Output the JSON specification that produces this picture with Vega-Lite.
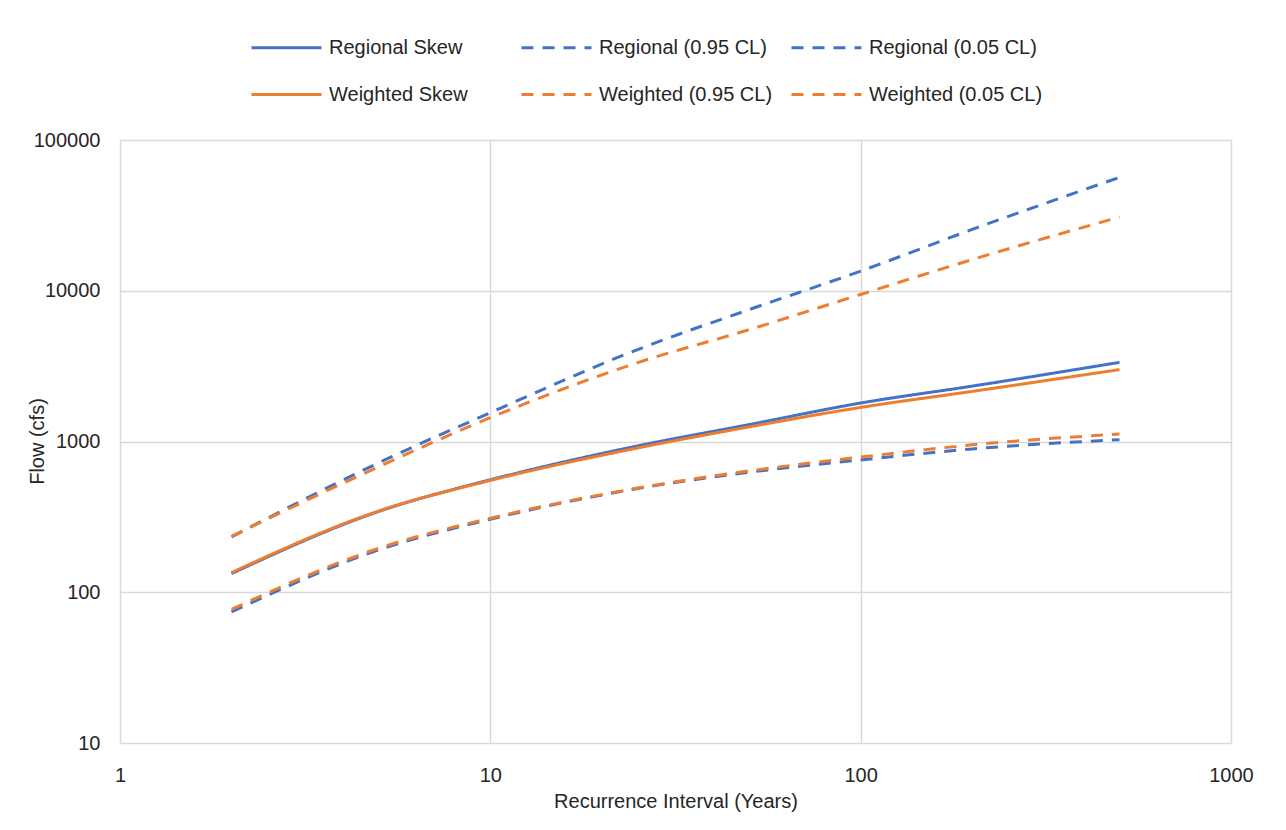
{
  "$schema": "https://vega.github.io/schema/vega-lite/v6.json",
  "autosize": {"type": "none"},
  "width": 1111,
  "height": 603,
  "padding": {"left": 120, "top": 140, "right": 55, "bottom": 87},
  "background": "white",
  "config": {
    "view": {"stroke": null},
    "font": "Liberation Sans"
  },
  "data": {
    "values": [
      {"ri": 2, "flow": 133, "series": "Regional Skew"},
      {"ri": 5, "flow": 344, "series": "Regional Skew"},
      {"ri": 10, "flow": 557, "series": "Regional Skew"},
      {"ri": 25, "flow": 935, "series": "Regional Skew"},
      {"ri": 50, "flow": 1295, "series": "Regional Skew"},
      {"ri": 100, "flow": 1800, "series": "Regional Skew"},
      {"ri": 200, "flow": 2330, "series": "Regional Skew"},
      {"ri": 500, "flow": 3350, "series": "Regional Skew"},

      {"ri": 2, "flow": 233, "series": "Regional (0.95 CL)"},
      {"ri": 5, "flow": 723, "series": "Regional (0.95 CL)"},
      {"ri": 10, "flow": 1553, "series": "Regional (0.95 CL)"},
      {"ri": 25, "flow": 4075, "series": "Regional (0.95 CL)"},
      {"ri": 50, "flow": 7500, "series": "Regional (0.95 CL)"},
      {"ri": 100, "flow": 13500, "series": "Regional (0.95 CL)"},
      {"ri": 200, "flow": 25500, "series": "Regional (0.95 CL)"},
      {"ri": 500, "flow": 56500, "series": "Regional (0.95 CL)"},

      {"ri": 2, "flow": 74, "series": "Regional (0.05 CL)"},
      {"ri": 5, "flow": 191, "series": "Regional (0.05 CL)"},
      {"ri": 10, "flow": 305, "series": "Regional (0.05 CL)"},
      {"ri": 25, "flow": 488, "series": "Regional (0.05 CL)"},
      {"ri": 50, "flow": 625, "series": "Regional (0.05 CL)"},
      {"ri": 100, "flow": 755, "series": "Regional (0.05 CL)"},
      {"ri": 200, "flow": 893, "series": "Regional (0.05 CL)"},
      {"ri": 500, "flow": 1028, "series": "Regional (0.05 CL)"},

      {"ri": 2, "flow": 135, "series": "Weighted Skew"},
      {"ri": 5, "flow": 346, "series": "Weighted Skew"},
      {"ri": 10, "flow": 552, "series": "Weighted Skew"},
      {"ri": 25, "flow": 906, "series": "Weighted Skew"},
      {"ri": 50, "flow": 1250, "series": "Weighted Skew"},
      {"ri": 100, "flow": 1683, "series": "Weighted Skew"},
      {"ri": 200, "flow": 2150, "series": "Weighted Skew"},
      {"ri": 500, "flow": 3000, "series": "Weighted Skew"},

      {"ri": 2, "flow": 235, "series": "Weighted (0.95 CL)"},
      {"ri": 5, "flow": 681, "series": "Weighted (0.95 CL)"},
      {"ri": 10, "flow": 1439, "series": "Weighted (0.95 CL)"},
      {"ri": 25, "flow": 3335, "series": "Weighted (0.95 CL)"},
      {"ri": 50, "flow": 5520, "series": "Weighted (0.95 CL)"},
      {"ri": 100, "flow": 9450, "series": "Weighted (0.95 CL)"},
      {"ri": 200, "flow": 16100, "series": "Weighted (0.95 CL)"},
      {"ri": 500, "flow": 30800, "series": "Weighted (0.95 CL)"},

      {"ri": 2, "flow": 77, "series": "Weighted (0.05 CL)"},
      {"ri": 5, "flow": 196, "series": "Weighted (0.05 CL)"},
      {"ri": 10, "flow": 310, "series": "Weighted (0.05 CL)"},
      {"ri": 25, "flow": 491, "series": "Weighted (0.05 CL)"},
      {"ri": 50, "flow": 638, "series": "Weighted (0.05 CL)"},
      {"ri": 100, "flow": 788, "series": "Weighted (0.05 CL)"},
      {"ri": 200, "flow": 950, "series": "Weighted (0.05 CL)"},
      {"ri": 500, "flow": 1122, "series": "Weighted (0.05 CL)"}
    ]
  },
  "mark": {"type": "line", "strokeWidth": 3, "interpolate": "monotone"},
  "encoding": {
    "x": {
      "field": "ri",
      "type": "quantitative",
      "scale": {"type": "log", "domain": [1, 1000], "nice": false},
      "axis": {
        "values": [1, 10, 100, 1000],
        "format": "d",
        "title": "Recurrence Interval (Years)",
        "titleFont": "Liberation Sans",
        "titleFontSize": 20,
        "titleFontWeight": "normal",
        "titleColor": "#262626",
        "titleY": 58,
        "titleBaseline": "middle",
        "labelFont": "Liberation Sans",
        "labelFontSize": 20,
        "labelColor": "#262626",
        "labelPadding": 22,
        "labelFlush": false,
        "tickSize": 0,
        "domain": false,
        "grid": true,
        "gridColor": "#d9d9d9",
        "gridWidth": 1.5
      }
    },
    "y": {
      "field": "flow",
      "type": "quantitative",
      "scale": {"type": "log", "domain": [10, 100000], "nice": false},
      "axis": {
        "values": [10, 100, 1000, 10000, 100000],
        "format": "d",
        "title": "Flow (cfs)",
        "titleFont": "Liberation Sans",
        "titleFontSize": 20,
        "titleFontWeight": "normal",
        "titleColor": "#262626",
        "titleX": -83,
        "titleY": 301,
        "titleAngle": -90,
        "titleAlign": "center",
        "titleBaseline": "middle",
        "labelFont": "Liberation Sans",
        "labelFontSize": 20,
        "labelColor": "#262626",
        "labelPadding": 20,
        "labelFlush": false,
        "tickSize": 0,
        "domain": false,
        "grid": true,
        "gridColor": "#d9d9d9",
        "gridWidth": 1.5
      }
    },
    "color": {
      "field": "series",
      "type": "nominal",
      "scale": {
        "domain": ["Regional Skew", "Regional (0.95 CL)", "Regional (0.05 CL)", "Weighted Skew", "Weighted (0.95 CL)", "Weighted (0.05 CL)"],
        "range": ["#4472C4", "#4472C4", "#4472C4", "#ED7D31", "#ED7D31", "#ED7D31"]
      },
      "legend": {
        "title": null,
        "orient": "none",
        "legendX": 130,
        "legendY": -129,
        "direction": "horizontal",
        "columns": 3,
        "gridAlign": "all",
        "columnPadding": 12,
        "rowPadding": 0,
        "symbolType": "stroke",
        "symbolSize": 4900,
        "symbolStrokeWidth": 3,
        "labelFont": "Liberation Sans",
        "labelFontSize": 20,
        "labelColor": "#262626",
        "labelOffset": 6,
        "labelLimit": 300
      }
    },
    "strokeDash": {
      "field": "series",
      "type": "nominal",
      "scale": {
        "domain": ["Regional Skew", "Regional (0.95 CL)", "Regional (0.05 CL)", "Weighted Skew", "Weighted (0.95 CL)", "Weighted (0.05 CL)"],
        "range": [[1, 0], [12, 9], [12, 9], [1, 0], [12, 9], [12, 9]]
      },
      "legend": null
    },
    "order": {"field": "ri", "type": "quantitative"}
  }
}
